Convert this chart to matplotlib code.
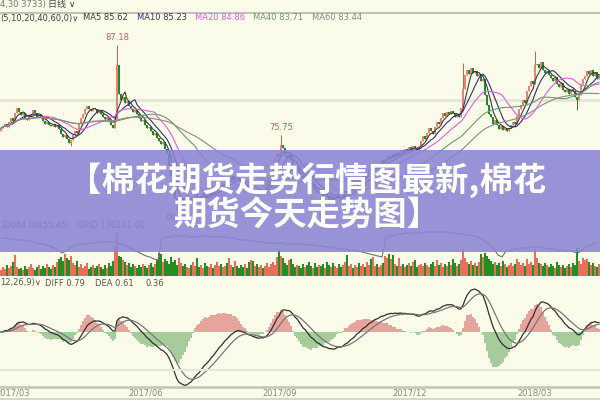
import matplotlib.pyplot as plt
from matplotlib.lines import Line2D
from matplotlib.patches import Rectangle
from matplotlib.transforms import blended_transform_factory
import numpy as np
import pandas as pd

plt.rcParams['font.family'] = ['DejaVu Sans', 'Noto Sans CJK SC']

# daily closes (one per candle, left to right)
closes = [
    76.6, 76.9, 77.2, 76.8, 77.4, 77.9, 77.5, 78.6, 79.2, 78.7,
    78.3, 78.6, 77.9, 77.6, 78.0, 78.4, 78.9, 78.5, 78.1, 78.3,
    77.9, 77.5, 77.1, 77.4, 77.0, 76.9, 77.2, 76.8, 77.0, 76.5,
    75.9, 75.5, 75.8, 75.2, 74.8, 75.1, 75.8, 76.3, 76.0, 77.2,
    77.9, 78.4, 79.0, 79.4, 79.1, 78.8, 79.2, 79.0, 78.6, 78.9,
    78.4, 78.1, 77.8, 78.1, 77.5, 77.0, 76.7, 77.8, 84.6, 80.9,
    80.2, 80.6, 79.8, 80.1, 79.4, 79.0, 78.7, 78.9, 78.4, 77.9,
    77.5, 77.7, 77.0, 76.6, 76.8, 76.2, 75.8, 76.0, 75.4, 75.0,
    74.6, 74.9, 74.0, 73.4, 72.0, 70.6, 69.2, 67.8, 67.0, 67.4,
    67.8, 67.3, 67.0, 67.4, 67.7, 67.3, 67.9, 68.2, 67.8, 67.5,
    68.0, 68.4, 68.1, 67.7, 68.2, 68.6, 68.3, 68.8, 69.1, 69.4,
    69.1, 69.6, 70.0, 69.7, 70.2, 70.5, 70.1, 70.6, 70.3, 70.0,
    69.6, 69.2, 69.5, 68.9, 68.6, 69.0, 68.4, 68.7, 68.2, 68.6,
    68.9, 68.5, 69.1, 69.6, 70.4, 71.2, 72.0, 72.8, 73.4, 73.1,
    74.5, 74.1, 73.2, 72.8, 73.4, 72.6, 72.0, 71.4, 71.8, 71.0,
    70.5, 70.1, 70.6, 69.9, 69.4, 69.0, 69.5, 68.8, 68.4, 68.9,
    68.2, 67.8, 68.3, 67.9, 67.5, 67.9, 67.4, 67.8, 68.3, 67.9,
    67.5, 68.1, 68.6, 68.2, 68.8, 69.2, 68.9, 69.5, 70.0, 69.6,
    70.2, 70.7, 70.3, 70.9, 71.4, 71.0, 71.6, 72.0, 71.6, 72.1,
    72.6, 72.2, 72.7, 73.1, 72.8, 73.3, 72.9, 73.5, 73.2, 73.6,
    73.8, 73.5, 74.0, 73.7, 74.2, 73.9, 74.4, 74.1, 73.8, 74.3,
    75.0, 75.6, 75.3, 76.0, 76.6, 76.2, 75.9, 76.8, 77.4, 77.1,
    77.9, 78.5, 78.2, 78.7, 78.4, 78.8, 78.5, 78.1, 78.4, 78.0,
    79.2, 81.6, 83.4, 84.0, 83.5, 84.2, 83.6, 83.9, 83.2, 83.5,
    82.6, 82.9, 80.8, 79.6, 78.4, 78.0, 77.2, 77.6, 77.0, 76.5,
    76.9, 76.4, 76.7, 76.2, 76.6, 77.0, 77.4, 77.1, 78.2, 79.0,
    79.6, 80.2, 79.8, 81.4, 82.0, 82.6, 82.2, 84.6, 84.8, 84.3,
    85.0, 84.0, 83.6, 83.9, 83.4, 83.0, 82.6, 83.1, 82.2, 81.8,
    82.3, 81.5, 81.2, 81.6, 81.0, 81.6, 81.3, 80.6, 80.2, 80.8,
    82.2, 82.8, 83.3, 83.9, 83.5, 84.0, 83.3, 83.7, 82.9, 83.2,
]
first_open = 76.3
# candles with a visible long wick
wick_highs = {58: 87.18, 140: 75.75, 231: 84.9, 267: 86.4}
wick_lows = {35: 74.3, 88: 66.2, 288: 78.9}

volumes = [
    6, 9, 7, 11, 8, 10, 14, 21, 9, 7,
    8, 6, 10, 7, 9, 12, 8, 6, 9, 11,
    7, 10, 8, 12, 9, 7, 11, 9, 14, 17,
    19, 15, 22, 18, 16, 20, 13, 11, 15, 9,
    12, 8, 10, 13, 7, 9, 11, 8, 10, 12,
    9, 7, 11, 8, 13, 10, 15, 29, 43, 20,
    19, 16, 14, 11, 13, 9, 12, 10, 8, 11,
    9, 12, 10, 8, 11, 13, 9, 12, 16, 23,
    22, 14, 17, 15, 12, 19, 14, 16, 11, 18,
    13, 10, 12, 9, 8, 11, 14, 10, 18, 9,
    11, 8, 13, 10, 9, 12, 8, 11, 14, 10,
    12, 9, 10, 13, 18, 11, 9, 15, 10, 8,
    11, 9, 12, 8, 14, 16, 15, 10, 12, 9,
    11, 8, 10, 13, 9, 12, 14, 11, 19, 26,
    20, 18, 13, 11, 16, 17, 12, 9, 11, 10,
    8, 12, 9, 11, 14, 10, 8, 13, 9, 11,
    10, 12, 8, 14, 11, 9, 13, 10, 8, 12,
    9, 11, 14, 21, 10, 12, 8, 11, 9, 13,
    10, 12, 9, 14, 11, 17, 19, 10, 12, 9,
    11, 13, 20, 18, 22, 17, 21, 12, 10, 18,
    10, 12, 9, 11, 13, 10, 14, 16, 9, 11,
    12, 10, 13, 11, 9, 12, 14, 10, 16, 11,
    13, 9, 12, 10, 14, 11, 17, 13, 10, 12,
    16, 26, 18, 14, 12, 15, 11, 13, 10, 14,
    22, 19, 23, 20, 17, 15, 12, 14, 11, 13,
    10, 15, 12, 9, 11, 13, 10, 12, 17, 14,
    11, 13, 10, 17, 12, 14, 11, 26, 18, 13,
    12, 10, 13, 11, 9, 12, 10, 8, 14, 11,
    9, 11, 8, 10, 12, 9, 13, 11, 28, 15,
    12, 18, 16, 17, 14, 11, 13, 10, 9, 12,
]

# open interest (thousand lots), one reading every second candle
open_int = [
    142, 142, 140, 140, 138, 138, 136, 136, 134, 132,
    130, 128, 126, 122, 118, 112, 116, 122, 126, 128,
    130, 130, 132, 132, 134, 134, 134, 134, 134, 132,
    128, 126, 122, 118, 114, 110, 106, 104, 100, 98,
    142, 144, 144, 146, 146, 146, 146, 144, 144, 144,
    146, 146, 144, 144, 144, 144, 144, 142, 142, 140,
    138, 138, 136, 136, 134, 134, 132, 132, 132, 132,
    132, 130, 130, 130, 130, 130, 128, 128, 128, 126,
    126, 124, 124, 122, 122, 120, 120, 118, 118, 116,
    114, 112, 110, 108, 106, 104, 144, 146, 148, 150,
    150, 152, 152, 152, 152, 152, 154, 154, 154, 154,
    154, 154, 152, 152, 150, 150, 148, 148, 146, 144,
    140, 134, 128, 120, 108, 104, 116, 118, 120, 122,
    122, 122, 124, 124, 124, 122, 122, 120, 120, 118,
    118, 116, 116, 114, 112, 118, 124, 128, 130, 132,
]

date_labels = ['2017/03', '2017/06', '2017/09', '2017/12', '2018/03']
date_pos = [-2.5, 64, 131, 196, 258.5]

ma_windows = [5, 10, 20, 40, 60]
ma_last = [85.62, 85.23, 84.86, 83.71, 83.44]
ma_colors = ['#3a3a3a', '#303078', '#e060d8', '#6a9c6a', '#8a8a8a']
ma_text_x = [83, 137, 195, 253, 312]

title_lines = ['【棉花期货走势行情图最新,棉花', '期货今天走势图】']

# ---- derived series ----
n = len(closes)
x = np.arange(n) + 0.5
c = np.array(closes)
o = np.array([first_open] + closes[:-1])  # futures open near previous close
hi = np.maximum(o, c)
lo = np.minimum(o, c)
for k, v in wick_highs.items():
    hi[k] = v
for k, v in wick_lows.items():
    lo[k] = v
up = c >= o

s = pd.Series(closes)
diff = s.ewm(span=12, adjust=False).mean() - s.ewm(span=26, adjust=False).mean()
dea = diff.ewm(span=9, adjust=False).mean()
macd = 2 * (diff - dea)

bg = '#fbfbea'
up_col = '#ee8270'
dn_col = '#1f8a2a'

fig = plt.figure(figsize=(6, 4), dpi=100, facecolor=bg)
ax_p = fig.add_axes([0, 1 - 220 / 400, 1, 195 / 400])
ax_v = fig.add_axes([0, 1 - 276 / 400, 1, 48 / 400])
ax_m = fig.add_axes([0, 1 - 387 / 400, 1, 99 / 400])
for ax in (ax_p, ax_v, ax_m):
    ax.set_xlim(0, n)
    ax.set_axis_off()
    ax.patch.set_alpha(0)

# price panel
ax_p.set_ylim(64.96, 89.72)
ax_p.axhline(80.2, color='#e6e6d6', lw=2, zorder=0)
ax_p.vlines(x, lo, hi, colors=np.where(up, '#b0503c', '#145a14'), lw=0.6, zorder=2)
ax_p.bar(x, np.maximum(np.abs(c - o), 0.08), bottom=lo.clip(min=0) * 0 + np.minimum(o, c),
         width=0.8, color=np.where(up, up_col, dn_col), lw=0, zorder=3)
for w, col in zip(ma_windows, ma_colors):
    ax_p.plot(x, s.rolling(w, min_periods=1).mean(), color=col, lw=0.8, zorder=4)
for k in (58, 140):
    ax_p.annotate(f'{hi[k]:.2f}', xy=(x[k], hi[k]), xytext=(0, 2), textcoords='offset points',
                  ha='center', va='bottom', fontsize=6, color='#c86058')
ax_p.annotate(f'{lo[88]:.2f}', xy=(x[88], lo[88]), xytext=(0, -2), textcoords='offset points',
              ha='center', va='top', fontsize=6, color='#707070')

# volume panel with open interest line
ax_v.set_ylim(0, 48)
ax_v.bar(x, volumes, width=0.85, color=np.where(up, '#e8705a', '#238f23'), lw=0)
ax_oi = ax_v.twinx()
ax_oi.set_axis_off()
ax_oi.set_ylim(66, 162)
ax_oi.plot(np.arange(len(open_int)) * 2 + 1, open_int, color='#6e6e88', lw=0.8)

# MACD panel
m_lo = diff.min() * 1.03
ax_m.set_ylim(m_lo, -m_lo * 44 / 55)
ax_m.bar(x, macd, width=0.6, color=np.where(macd >= 0, '#e6a49c', '#a6cc9c'), lw=0)
ax_m.plot(x, diff, color='#303030', lw=0.9)
ax_m.plot(x, dea, color='#777777', lw=0.9)

tr = blended_transform_factory(ax_m.transData, fig.transFigure)
for lab, pos in zip(date_labels, date_pos):
    ax_m.text(pos, 1 - 393 / 400, lab, transform=tr, ha='left', va='center',
              fontsize=6, color='#8a8a80')

# separators
for ypx, col, lw in [(13, '#c4c4b6', 1.5), (370, '#e6e6d6', 1.5), (387, '#c4c4b6', 1.8),
                     (399, '#d0d0c2', 1.2)]:
    fig.add_artist(Line2D([0, 1], [1 - ypx / 400] * 2, color=col, lw=lw))

# header texts
fig.text(0, 1 - 5 / 400, '4,30 3733)', fontsize=6, color='#777777', va='center')
fig.text(48 / 600, 1 - 5 / 400, '日线 ∨', fontsize=6.5, color='#444444', va='center')
fig.text(0, 1 - 18 / 400, '(5,10,20,40,60,0)∨', fontsize=6, color='#444444', va='center')
for w, val, col, xp in zip(ma_windows, ma_last, ma_colors, ma_text_x):
    fig.text(xp / 600, 1 - 18 / 400, f'MA{w} {val:.2f}', fontsize=6, color=col, va='center')
fig.text(0, 1 - 226 / 400, '10064.00(55:45)', fontsize=6, color='#666666', va='center')
fig.text(77 / 600, 1 - 226 / 400, 'OPID 130141.00', fontsize=6, color='#666666', va='center')
fig.text(0, 1 - 283 / 400, '12,26,9)∨', fontsize=6, color='#555555', va='center')
fig.text(45 / 600, 1 - 283 / 400, f'DIFF {0.79:.2f}', fontsize=6, color='#555555', va='center')
fig.text(95 / 600, 1 - 283 / 400, f'DEA {0.61:.2f}', fontsize=6, color='#555555', va='center')
fig.text(145 / 600, 1 - 283 / 400, f'{0.36:.2f}', fontsize=6, color='#555555', va='center')

# title banner on top
fig.add_artist(Rectangle((0, 1 - 252 / 400), 1, 102 / 400, transform=fig.transFigure,
                         facecolor='#8a84d4', alpha=0.88, lw=0, zorder=5))
for line, ypx in zip(title_lines, [180, 216]):
    fig.text(307 / 600, 1 - ypx / 400, line, ha='center', va='center', fontsize=24,
             fontweight='bold', color='white', family=['Noto Sans CJK SC', 'DejaVu Sans'],
             zorder=6)

fig.savefig('out.png', dpi=100, facecolor=bg)
